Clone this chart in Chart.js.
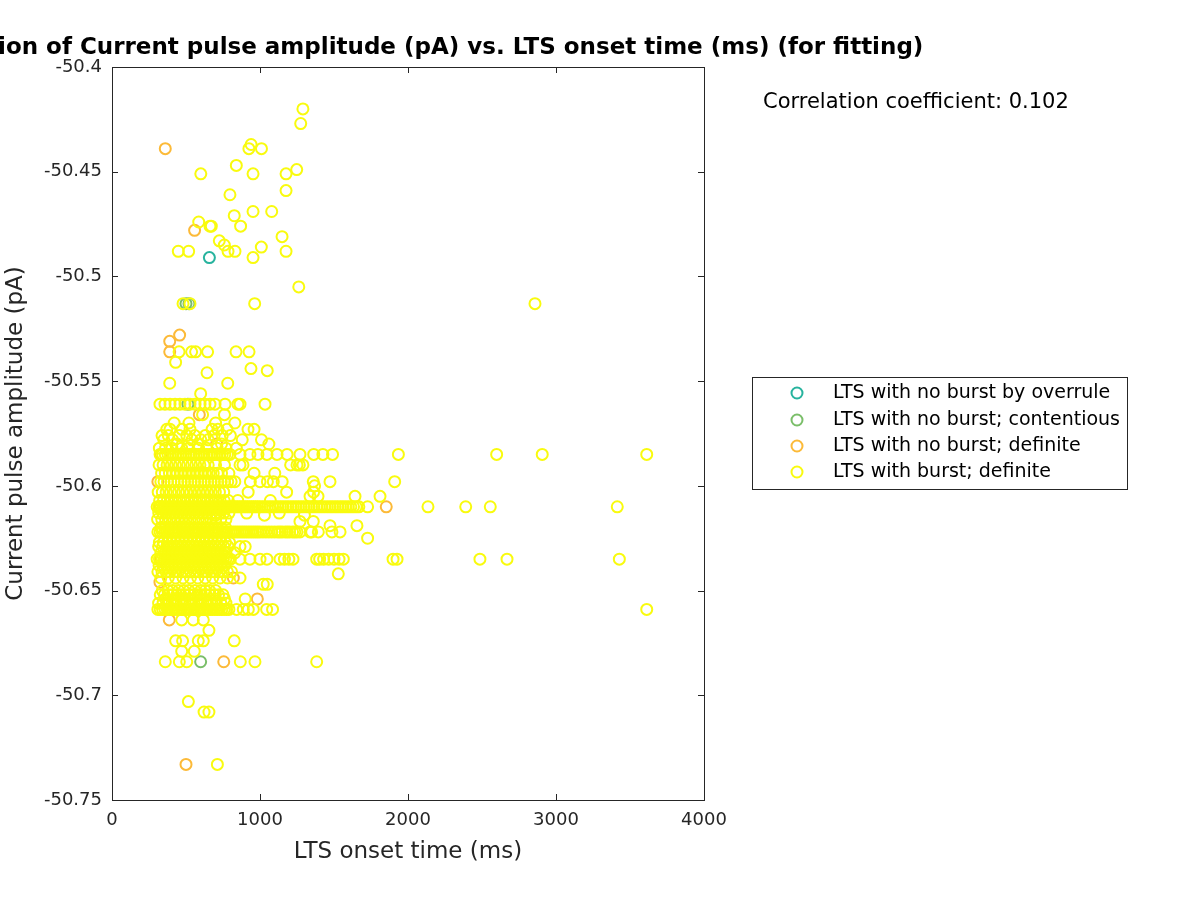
<!DOCTYPE html>
<html>
<head>
<meta charset="utf-8">
<script src="https://cdn.jsdelivr.net/npm/chart.js@4.4.1/dist/chart.umd.min.js"></script>
<style>
  body { margin: 0; background: #fff; }
  canvas { display: block; }
</style>
</head>
<body>
<canvas id="myScatter" width="1200" height="900"></canvas>
<script>
// --- data: y level (pA) and onset times (ms) at that level ---
var burstY = [-50.420, -50.427, -50.437, -50.439, -50.447, -50.449, -50.451, -50.459, -50.461, -50.469,
  -50.471, -50.474, -50.476, -50.481, -50.483, -50.485, -50.486, -50.488, -50.491, -50.505,
  -50.513, -50.536, -50.541, -50.544, -50.545, -50.546, -50.551, -50.556, -50.561, -50.566,
  -50.570, -50.573, -50.578, -50.580, -50.585, -50.590, -50.598, -50.600, -50.603, -50.605,
  -50.610, -50.614, -50.616, -50.617, -50.619, -50.622, -50.625, -50.629, -50.635, -50.641,
  -50.642, -50.644, -50.647, -50.650, -50.654, -50.659, -50.664, -50.669, -50.674, -50.679,
  -50.684, -50.703, -50.708, -50.733,
  -50.576, -50.582, -50.594, -50.607, -50.613, -50.620, -50.627, -50.632, -50.638, -50.652, -50.656];
var burstX = [
  [1290], [1275], [940], [925, 1010], [840], [1248], [600, 953, 1176], [1176], [797], [953, 1079],
  [826], [586], [662, 671, 869], [1149], [725], [759], [1009], [448, 518, 784, 831, 1176], [953], [1262],
  [480, 527, 964, 2858], [453, 538, 565, 646, 838, 926], [430], [939], [1049], [642], [390, 782], [599],
  [324, 358, 392, 426, 459, 493, 527, 561, 595, 628, 662, 696, 764, 851, 865, 1034],
  [612, 760],
  [420, 520, 700, 830],
  [370, 392, 473, 527, 676, 716, 777, 919, 960],
  [350, 410, 540, 600, 650, 880, 1010],
  [440, 520, 580, 740, 1060],
  [325, 342, 360, 378, 395, 412, 430, 448, 465, 482, 500, 518, 535, 552, 570, 588, 605, 622, 640, 658,
   675, 692, 710, 728, 745, 762, 780, 797, 865, 932, 986, 1047, 1115, 1183, 1270, 1363, 1425, 1490,
   1935, 2599, 2907, 3613],
  [318, 345, 372, 400, 428, 455, 482, 510, 538, 566, 594, 622, 650, 700, 760, 865, 885, 1207, 1250, 1266, 1290],
  [330, 352, 375, 398, 420, 445, 468, 490, 512, 535, 558, 580, 602, 625, 648, 670, 692, 715, 738, 760,
   782, 805, 830, 935, 1000, 1050, 1090, 1150, 1360, 1473, 1910],
  [1369],
  [312, 340, 366, 395, 422, 450, 478, 505, 532, 560, 588, 615, 643, 670, 698, 726, 755, 920, 1180, 1362],
  [1338, 1392, 1642, 1811],
  [305, 318, 331, 344, 357, 370, 384, 397, 410, 424, 437, 450, 464, 477, 490, 504, 517, 530, 544, 557,
   570, 584, 597, 610, 624, 637, 650, 664, 677, 690, 704, 717, 730, 744, 757, 770, 784, 797, 810, 824,
   837, 850, 864, 877, 890, 904, 917, 930, 944, 957, 970, 984, 997, 1015, 1032, 1050, 1068, 1085, 1103,
   1120, 1138, 1155, 1173, 1190, 1208, 1225, 1243, 1260, 1278, 1295, 1313, 1330, 1348, 1365, 1383, 1400,
   1418, 1436, 1455, 1473, 1490, 1508, 1525, 1543, 1560, 1578, 1596, 1614, 1632, 1650, 1668,
   1727, 2135, 2390, 2556, 3414],
  [700, 1030, 1300],
  [308, 336, 362, 390, 418, 445, 472, 500, 528, 556, 584, 612, 640, 668, 700, 735, 770],
  [1270, 1360],
  [1473, 1655],
  [310, 325, 340, 355, 370, 385, 400, 415, 430, 445, 460, 475, 490, 505, 520, 535, 550, 565, 580, 595,
   610, 625, 640, 655, 670, 685, 700, 715, 730, 745, 760, 775, 790, 805, 820, 835, 850, 865, 880, 895,
   910, 925, 940, 955, 970, 985, 1000, 1020, 1040, 1060, 1080, 1100, 1120, 1135, 1150, 1170, 1185, 1200,
   1220, 1235, 1250, 1270, 1338, 1349, 1394, 1486, 1541],
  [1727],
  [315, 342, 370, 398, 425, 452, 480, 508, 535, 562, 590, 618, 645, 673, 700, 728, 756, 785, 865, 900],
  [305, 321, 337, 353, 369, 385, 401, 417, 433, 449, 465, 481, 497, 513, 529, 545, 561, 577, 593, 609,
   625, 641, 657, 673, 689, 705, 721, 737, 753, 769, 785, 800, 865, 932, 1000, 1047, 1135, 1165, 1195,
   1223, 1383, 1403, 1430, 1464, 1500, 1534, 1563, 1899, 1926, 2486, 2669, 3428],
  [310, 338, 365, 392, 420, 448, 476, 503, 530, 558, 586, 614, 642, 670, 697, 724, 752, 780, 808],
  [1529],
  [330, 380, 430, 480, 530, 580, 630, 680, 730, 780, 865],
  [1022, 1049],
  [340, 378, 410, 450, 485, 520, 560, 600, 630, 660, 700],
  [360, 420, 480, 540, 600, 700, 760, 900],
  [310, 326, 342, 358, 374, 390, 406, 422, 438, 454, 470, 486, 502, 518, 534, 550, 566, 582, 598, 614,
   630, 646, 662, 678, 694, 710, 726, 742, 758, 774, 790, 842, 887, 921, 955, 1045, 1085, 3613],
  [471, 549, 617], [655], [430, 477, 583, 617, 826], [471, 556],
  [360, 455, 505, 867, 966, 1383], [516], [622, 655], [712],
  // in-between rows of the dense block
  [338, 380, 455, 505, 560, 630, 690, 745, 800],
  [320, 362, 405, 470, 515, 585, 640, 710, 770, 840],
  [335, 360, 388, 412, 440, 466, 494, 520, 548, 575, 602, 630, 656, 684, 712, 740, 790, 960, 1100],
  [322, 348, 374, 402, 428, 456, 484, 510, 538, 564, 592, 620, 646, 674, 702, 730, 758, 786, 850, 1070],
  [316, 344, 371, 399, 426, 454, 481, 509, 536, 563, 591, 618, 646, 673, 700, 728, 755, 790, 910, 1130],
  [334, 360, 387, 414, 441, 468, 495, 522, 550, 577, 604, 631, 658, 686, 713, 740, 768],
  [320, 348, 376, 404, 432, 459, 487, 515, 542, 570, 598, 626, 654, 682, 710, 738, 766, 794],
  [330, 357, 384, 412, 439, 466, 494, 521, 548, 576, 603, 630, 658, 685, 712, 740, 770, 830],
  [318, 346, 374, 401, 429, 457, 484, 512, 540, 567, 595, 623, 650, 678, 706, 733, 762],
  [326, 354, 382, 410, 438, 466, 494, 522, 550, 578, 606, 634, 662, 690, 720, 750],
  [315, 345, 375, 405, 435, 465, 495, 525, 555, 585, 615, 645, 675, 705, 735, 770]
];

var noBurstY = [-50.439, -50.478, -50.528, -50.531, -50.536, -50.566, -50.580, -50.585, -50.598, -50.610,
  -50.620, -50.635, -50.644, -50.646, -50.654, -50.664, -50.684, -50.733];
var noBurstX = [[360], [558], [457], [390], [390], [590], [707], [330], [310], [320, 1853],
  [330], [330], [820], [324], [982], [387], [755], [500]];

var contentiousY = [-50.513, -50.561, -50.684];
var contentiousX = [[500, 520], [513], [599]];

var overruleY = [-50.491];
var overruleX = [[658]];

var xTicks = [0, 1000, 2000, 3000, 4000];
var yTicks = [-50.75, -50.7, -50.65, -50.6, -50.55, -50.5, -50.45, -50.4];

var seriesNames = ['LTS with no burst by overrule', 'LTS with no burst; contentious',
  'LTS with no burst; definite', 'LTS with burst; definite'];
var seriesColors = ['rgb(39,179,158)', 'rgb(122,190,105)', 'rgb(252,186,56)', 'rgb(249,251,14)'];

var titleText = 'Correlation of Current pulse amplitude (pA) vs. LTS onset time (ms) (for fitting)';
var corrText = 'Correlation coefficient: 0.102';

function toPoints(ys, xs) {
  var pts = [];
  ys.forEach(function (y, i) {
    xs[i].forEach(function (x) { pts.push({ x: x, y: y }); });
  });
  return pts;
}

function makeSet(idx, ys, xs, order) {
  return {
    label: seriesNames[idx],
    data: toPoints(ys, xs),
    borderColor: seriesColors[idx],
    backgroundColor: 'rgba(0,0,0,0)',
    pointRadius: 5.5,
    pointBorderWidth: 2,
    pointHoverRadius: 5.5,
    order: order
  };
}

var ink = 'rgb(38,38,38)';
var fam = '"DejaVu Sans", sans-serif';

var decorations = {
  id: 'decorations',
  afterDatasetsDraw: function (chart) {
    var ctx = chart.ctx, a = chart.chartArea;
    var sx = chart.scales.x, sy = chart.scales.y;
    ctx.save();
    ctx.strokeStyle = ink;
    ctx.lineWidth = 1;
    ctx.strokeRect(Math.round(a.left) + 0.5, Math.round(a.top) + 0.5,
      Math.round(a.right - a.left), Math.round(a.bottom - a.top));
    ctx.beginPath();
    xTicks.forEach(function (t) {
      var px = Math.round(sx.getPixelForValue(t)) + 0.5;
      ctx.moveTo(px, a.bottom); ctx.lineTo(px, a.bottom - 6);
      ctx.moveTo(px, a.top); ctx.lineTo(px, a.top + 6);
    });
    yTicks.forEach(function (t) {
      var py = Math.round(sy.getPixelForValue(t)) + 0.5;
      ctx.moveTo(a.left, py); ctx.lineTo(a.left + 6, py);
      ctx.moveTo(a.right, py); ctx.lineTo(a.right - 6, py);
    });
    ctx.stroke();

    // title, centred on the axes and running off the left edge
    ctx.fillStyle = '#000';
    ctx.font = 'bold 23px ' + fam;
    ctx.textAlign = 'center';
    ctx.textBaseline = 'middle';
    ctx.fillText(titleText, (a.left + a.right) / 2, 48);

    ctx.font = '21px ' + fam;
    ctx.textAlign = 'left';
    ctx.fillText(corrText, 763, 103);

    // legend
    ctx.strokeStyle = ink;
    ctx.strokeRect(752.5, 377.5, 375, 112);
    ctx.font = '19px ' + fam;
    var rows = [393, 420, 446, 472];
    seriesNames.forEach(function (name, i) {
      ctx.beginPath();
      ctx.arc(797, rows[i], 5.5, 0, Math.PI * 2);
      ctx.strokeStyle = seriesColors[i];
      ctx.lineWidth = 2;
      ctx.stroke();
      ctx.fillStyle = '#000';
      ctx.fillText(name, 833, rows[i]);
    });
    ctx.restore();
  }
};

var ctx = document.getElementById('myScatter');
var myScatter = new Chart(ctx, {
  type: 'scatter',
  data: {
    datasets: [
      makeSet(3, burstY, burstX, 0),
      makeSet(0, overruleY, overruleX, 1),
      makeSet(1, contentiousY, contentiousX, 2),
      makeSet(2, noBurstY, noBurstX, 3)
    ]
  },
  options: {
    responsive: false,
    animation: false,
    devicePixelRatio: 1,
    events: [],
    layout: { padding: { left: 0, top: 67, right: 496, bottom: 0 } },
    plugins: {
      legend: { display: false },
      title: { display: false },
      tooltip: { enabled: false }
    },
    scales: {
      x: {
        type: 'linear',
        min: 0,
        max: 4000,
        afterFit: function (s) { s.height = 100; },
        afterBuildTicks: function (s) { s.ticks = xTicks.map(function (v) { return { value: v }; }); },
        ticks: {
          color: ink, font: { family: fam, size: 18 }, padding: 10, maxRotation: 0,
          callback: function (v) { return String(v); }
        },
        grid: { display: false, drawTicks: false },
        border: { display: false },
        title: { display: true, text: 'LTS onset time (ms)', color: ink,
          font: { family: fam, size: 23 }, padding: { bottom: 34 } }
      },
      y: {
        type: 'linear',
        min: -50.75,
        max: -50.4,
        afterFit: function (s) { s.width = 112; },
        afterBuildTicks: function (s) { s.ticks = yTicks.map(function (v) { return { value: v }; }); },
        ticks: {
          color: ink, font: { family: fam, size: 18 }, padding: 10,
          callback: function (v) { return parseFloat(v.toFixed(2)).toString(); }
        },
        grid: { display: false, drawTicks: false },
        border: { display: false },
        title: { display: true, text: 'Current pulse amplitude (pA)', color: ink,
          font: { family: fam, size: 23 }, padding: { top: 2 } }
      }
    }
  },
  plugins: [decorations]
});
</script>
</body>
</html>
